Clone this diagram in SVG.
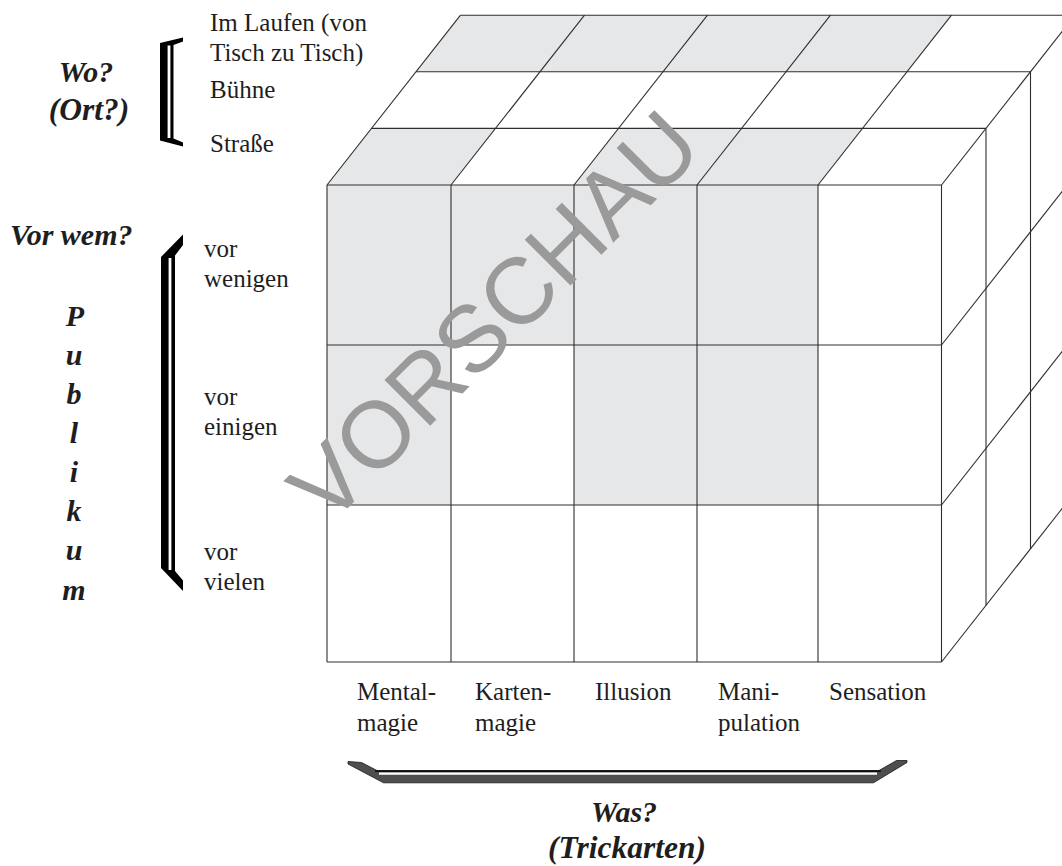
<svg xmlns="http://www.w3.org/2000/svg" width="1062" height="866" viewBox="0 0 1062 866">
<style>
.lbl{font-family:"Liberation Serif","Times New Roman",serif;font-size:25px;fill:#1e1e1e}
.hd{font-family:"Liberation Serif","Times New Roman",serif;font-size:30px;font-weight:bold;font-style:italic;fill:#1e1e1e}
.hd2{font-size:31.5px}
.shade{fill:#e6e7e8;stroke:none}
.grid line{stroke:#2e2e2e;stroke-width:1.1;fill:none}
.wm{font-family:"Liberation Sans",Arial,sans-serif;font-size:94px;fill:#9a9a9a}
</style>
<rect width="1062" height="866" fill="#ffffff"/>

<g id="cube-fills">
  <polygon class="shade" points="327,185 451,185 495.5,128.4 371.5,128.4"/>
  <polygon class="shade" points="574,185 818,185 862.5,128.4 618.5,128.4"/>
  <polygon class="shade" points="416,71.8 907,71.8 951.5,15.2 460.5,15.2"/>
  <rect class="shade" x="327" y="185" width="491" height="160"/>
  <rect class="shade" x="327" y="345" width="124" height="160"/>
  <rect class="shade" x="574" y="345" width="244" height="160"/>
</g>

<g id="connectors" class="grid">
  <line x1="327" y1="185" x2="941.5" y2="185"/>
  <line x1="327" y1="345" x2="941.5" y2="345"/>
  <line x1="327" y1="505" x2="941.5" y2="505"/>
  <line x1="327" y1="662" x2="941.5" y2="662"/>
  <line x1="327" y1="185" x2="327" y2="662"/>
  <line x1="451" y1="185" x2="451" y2="662"/>
  <line x1="574" y1="185" x2="574" y2="662"/>
  <line x1="697" y1="185" x2="697" y2="662"/>
  <line x1="818" y1="185" x2="818" y2="662"/>
  <line x1="941.5" y1="185" x2="941.5" y2="662"/>
  <line x1="371.5" y1="128.4" x2="986" y2="128.4"/>
  <line x1="416" y1="71.8" x2="1030.5" y2="71.8"/>
  <line x1="460.5" y1="15.2" x2="1075" y2="15.2"/>
  <line x1="327" y1="185" x2="460.5" y2="15.2"/>
  <line x1="451" y1="185" x2="584.5" y2="15.2"/>
  <line x1="574" y1="185" x2="707.5" y2="15.2"/>
  <line x1="697" y1="185" x2="830.5" y2="15.2"/>
  <line x1="818" y1="185" x2="951.5" y2="15.2"/>
  <line x1="941.5" y1="185" x2="1075" y2="15.2"/>
  <line x1="986" y1="128.4" x2="986" y2="605.4"/>
  <line x1="1030.5" y1="71.8" x2="1030.5" y2="548.8"/>
  <line x1="941.5" y1="345" x2="1075" y2="175.2"/>
  <line x1="941.5" y1="505" x2="1075" y2="335.2"/>
  <line x1="941.5" y1="662" x2="1075" y2="492.2"/>
</g>

<g id="watermark">
  <text class="wm" transform="translate(517,339) rotate(-45)" text-anchor="middle">VORSCHAU</text>
</g>

<g id="wo-bracket">
  <polygon points="160,43 183,37.5 183,41.5 173.5,45 173.5,138.5 183,142.5 183,146.5 160,140.5" fill="#000"/>
  <rect x="167.6" y="45.5" width="2.8" height="92.5" fill="#fff"/>
</g>
<g id="wo-label">
  <text class="hd" x="86" y="82" text-anchor="middle">Wo?</text>
  <text class="hd hd2" x="89" y="120" text-anchor="middle">(Ort?)</text>
</g>
<g id="ort-items">
  <text class="lbl" x="210" y="31">Im Laufen (von</text>
  <text class="lbl" x="210" y="61">Tisch zu Tisch)</text>
  <text class="lbl" x="210" y="98">Bühne</text>
  <text class="lbl" x="210" y="152">Straße</text>
</g>

<g id="vor-bracket">
  <polygon points="161,257 183,234.5 183,245 175,255.5 175,571 183,580.5 183,591 161,568" fill="#000"/>
  <rect x="168.6" y="258" width="2.8" height="312" fill="#fff"/>
</g>
<g id="publikum-label">
  <text class="hd" x="10" y="245">Vor wem?</text>
  <g text-anchor="middle">
    <text class="hd" x="75" y="326">P</text>
    <text class="hd" x="74" y="365">u</text>
    <text class="hd" x="74" y="404">b</text>
    <text class="hd" x="74" y="443">l</text>
    <text class="hd" x="74" y="482">i</text>
    <text class="hd" x="74" y="521">k</text>
    <text class="hd" x="74" y="560">u</text>
    <text class="hd" x="74" y="600">m</text>
  </g>
</g>
<g id="publikum-items">
  <text class="lbl" x="204" y="257">vor</text>
  <text class="lbl" x="204" y="287">wenigen</text>
  <text class="lbl" x="204" y="405">vor</text>
  <text class="lbl" x="204" y="435">einigen</text>
  <text class="lbl" x="204" y="560">vor</text>
  <text class="lbl" x="204" y="590">vielen</text>
</g>

<g id="was-items">
  <text class="lbl" x="357" y="700">Mental-</text>
  <text class="lbl" x="357" y="731">magie</text>
  <text class="lbl" x="475" y="700">Karten-</text>
  <text class="lbl" x="475" y="731">magie</text>
  <text class="lbl" x="595" y="700">Illusion</text>
  <text class="lbl" x="718" y="700">Mani-</text>
  <text class="lbl" x="718" y="731">pulation</text>
  <text class="lbl" x="829" y="700">Sensation</text>
</g>

<g id="was-bracket">
  <polygon points="348,761.5 361.5,762.5 377,770.5 879,770.5 896.5,760.5 907,760.5 907,762.5 873.5,782.8 383.5,782.8 348,764" fill="#4e4e4e" stroke="#1a1a1a" stroke-width="0.8"/>
  <line x1="375" y1="771.2" x2="881" y2="771.2" stroke="#111" stroke-width="1.8"/>
  <line x1="379" y1="773.6" x2="877" y2="773.6" stroke="#fff" stroke-width="2.2"/>
</g>
<g id="was-label">
  <text class="hd" x="624" y="822" text-anchor="middle">Was?</text>
  <text class="hd hd2" x="627" y="858" text-anchor="middle">(Trickarten)</text>
</g>
</svg>
